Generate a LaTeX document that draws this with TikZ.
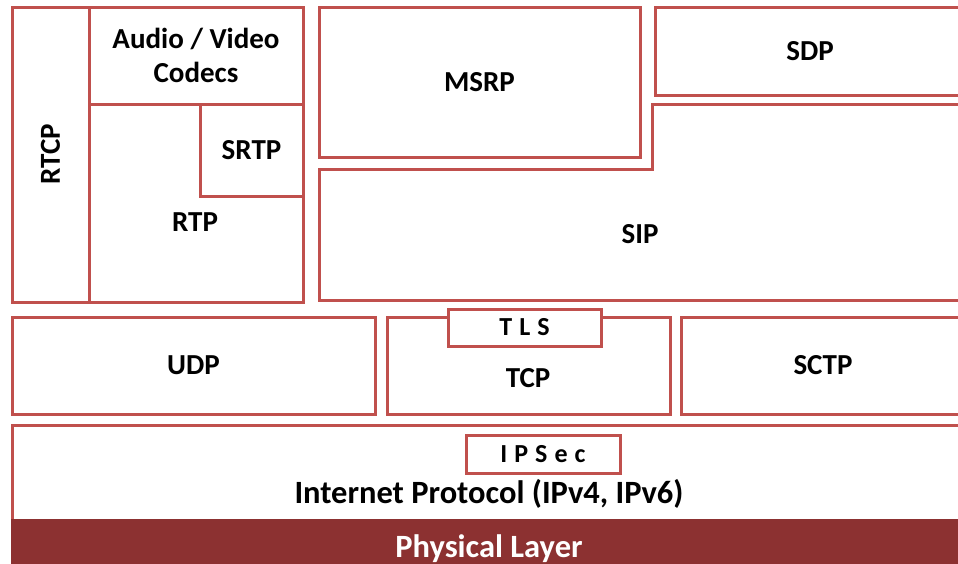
\documentclass[tikz,border=0pt]{standalone}
\usepackage{fontspec}
\setmainfont{Carlito}
\newfontfamily\spacedfont[LetterSpace=27]{Carlito}
\definecolor{bord}{HTML}{C0504D}
\definecolor{phys}{HTML}{8C3131}
\begin{document}
\begin{tikzpicture}[x=1pt,y=-1pt,
  box/.style={draw=bord, line width=3pt, fill=white, anchor=north west, inner sep=0pt, outer sep=0pt, align=center, font=\fontsize{29}{34}\selectfont\bfseries},
  small/.style={font=\fontsize{26}{30}\selectfont\bfseries\spacedfont},
  lbl/.style={font=\fontsize{29}{34}\selectfont\bfseries, inner sep=0pt, align=center},
  big/.style={font=\fontsize{32.5}{38}\selectfont\bfseries, inner sep=0pt}]
\useasboundingbox (0,0) rectangle (958,563);
\clip (0,0) rectangle (958,563);
% left stack
\node[box, minimum width=77pt, minimum height=295pt] (rtcp) at (12,7) {};
\node[lbl, rotate=90] (rtcplbl) at (rtcp.center) {RTCP};
\node[box, minimum width=214pt, minimum height=198pt] (rtp) at (89,104) {};
\node[lbl] (rtplbl) at (195,222) {RTP};
\node[box, minimum width=214pt, minimum height=97pt] (avc) at (89,7) {Audio / Video\\Codecs};
\node[box, minimum width=103pt, minimum height=92pt] (srtp) at (200,104) {SRTP};
% right upper
\node[box, minimum width=321pt, minimum height=150pt] (msrp) at (319,7) {MSRP};
\node[box, minimum width=310pt, minimum height=88pt] (sdp) at (655,7) {SDP};
\draw[draw=bord, line width=3pt, fill=white] (319,169) -- (652,169) -- (652,104) -- (965,104) -- (965,300) -- (319,300) -- cycle;
\node[lbl] (sip) at (640,234) {SIP};
% transport
\node[box, minimum width=363pt, minimum height=97pt] (udp) at (12,317) {UDP};
\node[box, minimum width=283pt, minimum height=97pt] (tcp) at (387,317) {};
\node[lbl] (tcplbl) at (528,378) {TCP};
\node[box, small, minimum width=153pt, minimum height=37pt] (tls) at (448,309) {TLS};
\node[box, minimum width=284pt, minimum height=97pt] (sctp) at (681,317) {SCTP};
% network
\node[box, minimum width=953pt, minimum height=95pt] (ip) at (12,425) {};
\node[box, small, minimum width=154pt, minimum height=38pt] (ipsec) at (466,435) {IPSec};
\node[big, anchor=base] (iplbl) at (489,503) {Internet Protocol (IPv4, IPv6)};
\node[box, draw=none, fill=phys, minimum width=960pt, minimum height=46pt] (phys) at (10.5,519) {};
\node[big, anchor=base, text=white] (physlbl) at (489,557) {Physical Layer};
\end{tikzpicture}
\end{document}
